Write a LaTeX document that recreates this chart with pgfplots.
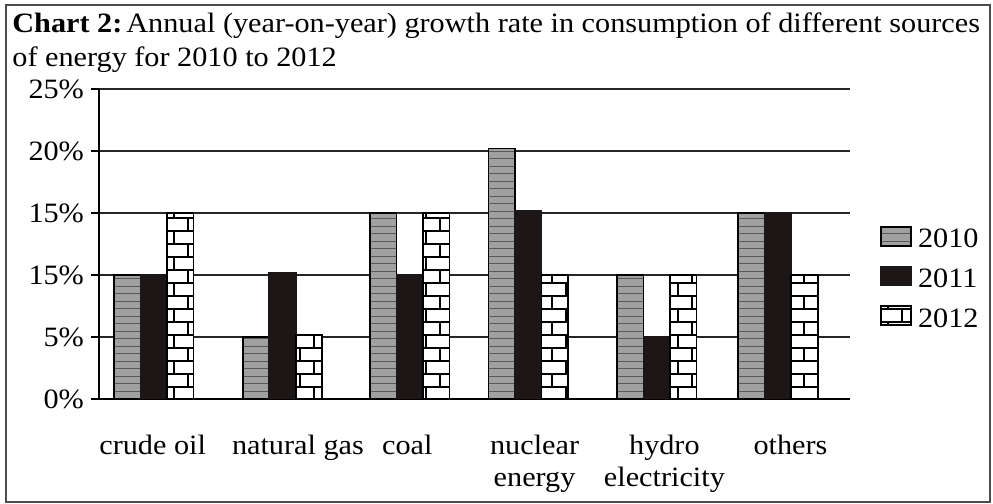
\documentclass[border=0pt]{standalone}
\usepackage{fontspec}
\setmainfont{Liberation Serif}[FakeStretch=1.08]
\usepackage{pgfplots}
\pgfplotsset{compat=1.18}
\usetikzlibrary{patterns.meta}

% grey bars: dense horizontal lines
\tikzdeclarepattern{
  name=hstripes,
  type=uncolored,
  bounding box={(-0.1pt,-0.3pt) and (4.1pt,0.3pt)},
  tile size={(4pt,3.75pt)},
  code={\draw[line width=0.5pt] (-0.1pt,0pt) -- (4.1pt,0pt);}
}
% white bars: bricks
\tikzdeclarepattern{
  name=brickwall,
  type=uncolored,
  bounding box={(-0.4pt,-0.4pt) and (14.4pt,13.4pt)},
  tile size={(14pt,13pt)},
  code={
    \draw[line width=0.8pt] (-0.4pt,0pt) -- (14.4pt,0pt);
    \draw[line width=0.8pt] (-0.4pt,6.5pt) -- (14.4pt,6.5pt);
    \draw[line width=0.8pt] (3pt,0pt) -- (3pt,6.5pt);
    \draw[line width=0.8pt] (10pt,6.5pt) -- (10pt,13pt);
  }
}

\definecolor{bargrey}{HTML}{A0A0A0}
\definecolor{barblack}{HTML}{1C1616}

\begin{document}
\begin{tikzpicture}[font=\fontsize{14}{16}\selectfont]
\path[use as bounding box] (-49.5pt,-52.5pt) rectangle (447pt,199.5pt);
\begin{axis}[
  at={(0,0)}, anchor=south west,
  scale only axis, width=375.5pt, height=155pt,
  xmin=-0.44, xmax=5.577, ymin=0, ymax=25,
  ybar=0pt, bar width=13.25pt,
  axis x line*=bottom, axis y line*=left,
  axis line style={-, line width=1pt},
  xtick={-0.01,1.154,2.03,3.05,4.09,5.1},
  xticklabels={crude oil, natural gas, coal, {nuclear\\energy}, {hydro\\electricity}, others},
  xticklabel style={align=center, anchor=north, inner sep=0pt, yshift=-14pt},
  xtick style={draw=none},
  ytick={0,5,10,15,20,25},
  yticklabels={0\%,5\%,15\%,15\%,20\%,25\%},
  ytick style={line width=0.8pt, black},
  tick align=outside, major tick length=4pt,
  tick label style={font=\fontsize{14}{16}\selectfont},
  ymajorgrids, grid style={line width=1pt, black!85},
  legend style={draw=none, fill=none, at={(1.04,0.39)}, anchor=west,
    inner sep=0pt, row sep=7.5pt,
    nodes={inner sep=0pt, font=\fontsize{14}{16}\selectfont}},
  legend cell align=left,
  legend image code/.code={\draw[#1] (0pt,-3pt) rectangle (15pt,6.5pt);},
]
\addplot[draw=black, line width=0.8pt, fill=bargrey,
  postaction={pattern=hstripes, pattern color=black!65}] coordinates {
  (0,10) (1.03,5) (2.05,15) (3.0,20.2) (4.03,10) (5.0,15)
};
\addplot[draw=barblack, line width=0.8pt, fill=barblack] coordinates {
  (0,10) (1.03,10.2) (2.05,10) (3.0,15.2) (4.03,5) (5.0,15)
};
\addplot[draw=black, line width=0.8pt, fill=white,
  postaction={pattern=brickwall, pattern color=black}] coordinates {
  (0,15) (1.03,5.2) (2.05,15) (3.0,10) (4.03,10) (5.0,10)
};
\legend{\hspace{3pt}2010,\hspace{3pt}2011,\hspace{3pt}2012}
\end{axis}
\node[anchor=base west, inner sep=0pt] at (-43.5pt,183pt)
  {\textbf{Chart 2:}\hspace{2pt}Annual (year-on-year) growth rate in consumption of different sources};
\node[anchor=base west, inner sep=0pt] at (-43.5pt,166pt)
  {of energy for 2010 to 2012};
\draw[line width=1pt, black!70] (-46.5pt,-51.5pt) rectangle (445.5pt,197pt);
\end{tikzpicture}
\end{document}
